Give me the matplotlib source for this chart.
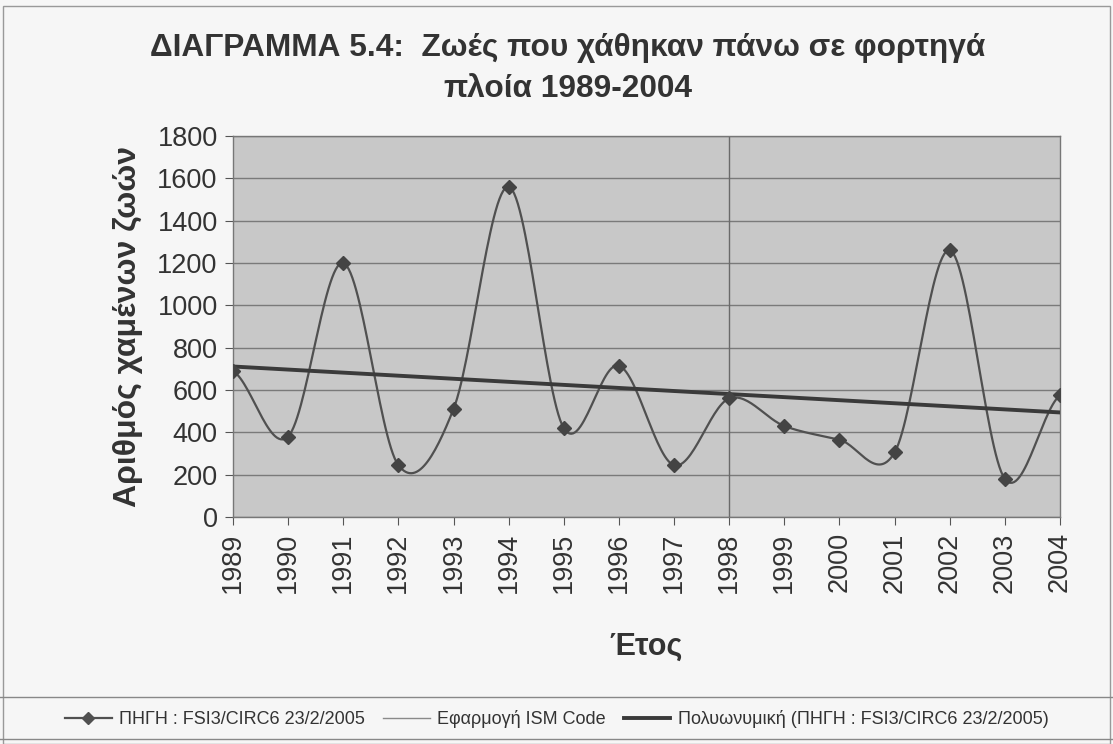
import numpy as np
import matplotlib
matplotlib.use("Agg")
from matplotlib import pyplot as plt
from matplotlib.lines import Line2D
from matplotlib.patches import Rectangle

years = list(range(1989, 2005))
lives_lost = [690, 380, 1200, 245, 510, 1560, 420, 715, 245, 560, 430, 365, 305, 1260, 180, 575]
ism_year = 1998
y_ticks = [0, 200, 400, 600, 800, 1000, 1200, 1400, 1600, 1800]

title = "ΔΙΑΓΡΑΜΜΑ 5.4:  Ζωές που χάθηκαν πάνω σε φορτηγά\nπλοία 1989-2004"
y_label = "Αριθμός χαμένων ζωών"
x_label = "Έτος"
legend_labels = [
    "ΠΗΓΗ : FSI3/CIRC6 23/2/2005",
    "Εφαρμογή ISM Code",
    "Πολυωνυμική (ΠΗΓΗ : FSI3/CIRC6 23/2/2005)",
]

plt.rcParams["font.family"] = ["Liberation Sans", "DejaVu Sans"]


def smooth(xs, ys, n=30):
    # catmull-rom through the points, like the excel "smoothed line" option
    x = np.asarray(xs, float)
    y = np.asarray(ys, float)
    px = np.concatenate([[2 * x[0] - x[1]], x, [2 * x[-1] - x[-2]]])
    py = np.concatenate([[y[0]], y, [y[-1]]])
    out_x, out_y = [], []
    t = np.linspace(0, 1, n, endpoint=False)
    for i in range(1, len(px) - 2):
        p0, p1, p2, p3 = [np.array([px[j], py[j]]) for j in (i - 1, i, i + 1, i + 2)]
        m1 = (p2 - p0) / 2
        m2 = (p3 - p1) / 2
        h00 = 2 * t**3 - 3 * t**2 + 1
        h10 = t**3 - 2 * t**2 + t
        h01 = -2 * t**3 + 3 * t**2
        h11 = t**3 - t**2
        pts = np.outer(h00, p1) + np.outer(h10, m1) + np.outer(h01, p2) + np.outer(h11, m2)
        out_x.extend(pts[:, 0])
        out_y.extend(pts[:, 1])
    out_x.append(x[-1])
    out_y.append(y[-1])
    return np.array(out_x), np.array(out_y)


fig = plt.figure(figsize=(11.13, 7.44), dpi=100, facecolor="#f6f6f6")
ax = fig.add_axes([0.2093, 0.3051, 0.7431, 0.5121], facecolor="#c8c8c8")

# grid
for t in y_ticks:
    ax.axhline(t, color="#7a7a7a", lw=1.0, zorder=1)

# data, smoothed
sx, sy = smooth(years, lives_lost)
ax.plot(sx, sy, color="#505050", lw=1.6, zorder=3)
ax.plot(years, lives_lost, ls="none", marker="D", ms=7, color="#444444", zorder=4)

# ISM Code line
ax.plot([ism_year, ism_year], [0, 1800], color="#6a6a6a", lw=1.0, zorder=2)

# trend
coef = np.polyfit(np.arange(len(years)), lives_lost, 1)
trend = np.polyval(coef, np.arange(len(years)))
ax.plot(years, trend, color="#3a3a3a", lw=2.8, zorder=3)

ax.set_xlim(years[0], years[-1])
ax.set_ylim(0, 1800)
ax.set_yticks(y_ticks)
ax.set_xticks(years)
ax.set_xticklabels([str(y) for y in years], rotation=90)
ax.tick_params(axis="both", labelsize=19.5, color="#555555", length=6,
               labelcolor="#333333", pad=5)
for s in ax.spines.values():
    s.set_color("#777777")
    s.set_linewidth(1.0)

ax.set_ylabel(y_label, fontsize=23, fontweight="bold", color="#333333", labelpad=10)
ax.set_xlabel(x_label, fontsize=22, fontweight="bold", color="#333333", labelpad=28)

fig.text(0.51, 0.908, title, ha="center", va="center", fontsize=22.8,
         fontweight="bold", color="#333333", linespacing=1.45)

# legend
handles = [
    Line2D([], [], color="#505050", lw=1.6, marker="D", ms=6),
    Line2D([], [], color="#8a8a8a", lw=1.0),
    Line2D([], [], color="#3a3a3a", lw=2.8),
]
leg = fig.legend(handles, legend_labels, loc="center", bbox_to_anchor=(0.5, 1 - 719 / 744),
                 ncol=3, frameon=False, handlelength=2.6, columnspacing=1.0,
                 handletextpad=0.4, prop={"size": 13})
for txt in leg.get_texts():
    txt.set_color("#333333")

fig.add_artist(Line2D([0.0, 1.0], [1 - 697 / 744] * 2, color="#888888", lw=1.0))
fig.add_artist(Line2D([0.0, 1.0], [1 - 739 / 744] * 2, color="#888888", lw=1.0))
fig.add_artist(Rectangle((0.003, 0.0), 0.994, 0.992, fill=False, edgecolor="#999999", lw=1.0))

fig.savefig("out.png", dpi=100, facecolor=fig.get_facecolor())
